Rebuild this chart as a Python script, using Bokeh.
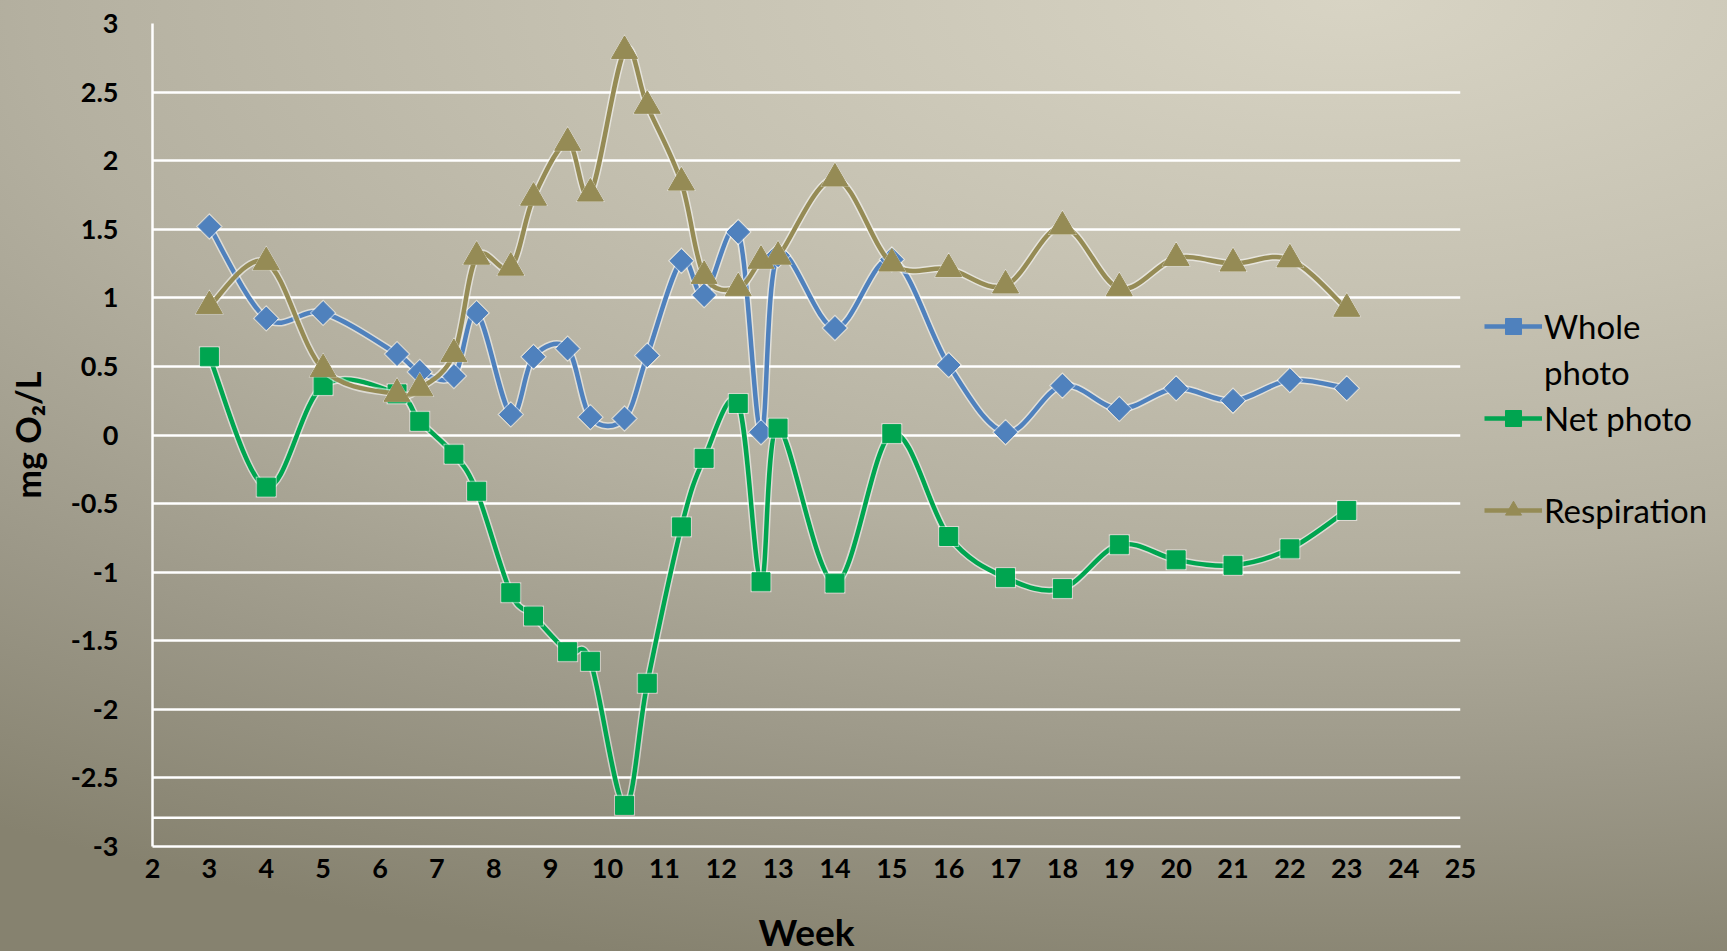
from bokeh.plotting import figure
from bokeh.models import FixedTicker, Legend, LegendItem, Span, ColumnDataSource
from bokeh.embed import file_html
from bokeh.resources import INLINE
import numpy as np

# Sampling weeks
weeks = [3, 4, 5, 6.3, 6.7, 7.3, 7.7, 8.3, 8.7, 9.3, 9.7, 10.3, 10.7, 11.3, 11.7,
         12.3, 12.7, 13, 14, 15, 16, 17, 18, 19, 20, 21, 22, 23]

# Dissolved oxygen changes (mg O2/L)
whole_photo = [1.52, 0.85, 0.89, 0.59, 0.46, 0.43, 0.89, 0.15, 0.57, 0.63, 0.13, 0.12,
               0.58, 1.27, 1.02, 1.48, 0.02, 1.31, 0.78, 1.28, 0.51, 0.02, 0.36, 0.19,
               0.34, 0.25, 0.40, 0.34]
net_photo = [0.57, -0.38, 0.36, 0.30, 0.10, -0.14, -0.41, -1.15, -1.32, -1.58, -1.65,
             -2.70, -1.81, -0.67, -0.17, 0.23, -1.07, 0.05, -1.08, 0.01, -0.74, -1.04,
             -1.12, -0.80, -0.91, -0.95, -0.83, -0.55]
respiration = [0.94, 1.26, 0.48, 0.30, 0.34, 0.59, 1.30, 1.22, 1.73, 2.13, 1.76, 2.80,
               2.40, 1.84, 1.16, 1.07, 1.27, 1.30, 1.87, 1.25, 1.21, 1.09, 1.52, 1.07,
               1.29, 1.25, 1.28, 0.92]

x_ticks = list(range(2, 26))
y_ticks = [-3, -2.5, -2, -1.5, -1, -0.5, 0, 0.5, 1, 1.5, 2, 2.5, 3]
y_tick_labels = ["-3", "-2.5", "-2", "-1.5", "-1", "-0.5", "0", "0.5", "1", "1.5", "2", "2.5", "3"]

FONT = "Lato"

p = figure(width=1727, height=951, x_range=(2, 25), y_range=(-3, 3),
           output_backend="svg", toolbar_location=None,
           min_border_left=152, min_border_right=267, min_border_top=23, min_border_bottom=105)
p.frame_width = 1308
p.frame_height = 823

p.styles = {
    "background": (
        "linear-gradient(to right, rgba(0,0,0,0) 80%, rgba(70,64,48,0.22) 100%), "
        "radial-gradient(ellipse 2400px 1000px at 1350px 0px, #D8D4C4 0%, #C6C2B2 30%, "
        "#B4B0A0 55%, #9C9888 78%, #86826F 100%)"
    )
}
p.background_fill_alpha = 0
p.border_fill_alpha = 0
p.outline_line_alpha = 0

# Grid
p.xgrid.grid_line_color = None
p.ygrid.ticker = FixedTicker(ticks=y_ticks)
p.ygrid.grid_line_color = "white"
p.ygrid.grid_line_width = 2.5
p.add_layout(Span(location=-2.79, dimension="width", line_color="white", line_width=2.5))

# Axes
for ax in (p.xaxis[0], p.yaxis[0]):
    ax.axis_line_color = "white"
    ax.axis_line_width = 2.5
    ax.major_tick_line_color = None
    ax.minor_tick_line_color = None
    ax.major_label_text_font = FONT
    ax.major_label_text_font_style = "bold"
    ax.major_label_text_font_size = "27px"
    ax.major_label_text_color = "black"
    ax.axis_label_text_font = FONT
    ax.axis_label_text_font_style = "bold"
    ax.axis_label_text_color = "black"

p.xaxis.ticker = FixedTicker(ticks=x_ticks)
p.xaxis.major_label_overrides = {t: str(t) for t in x_ticks}
p.xaxis.major_label_standoff = 6
p.xaxis.axis_label = "Week"
p.xaxis.axis_label_text_font_size = "37px"
p.xaxis.axis_label_standoff = 28

p.yaxis.ticker = FixedTicker(ticks=y_ticks)
p.yaxis.major_label_overrides = dict(zip(y_ticks, y_tick_labels))
p.yaxis.major_label_standoff = 28
p.yaxis.axis_label = "mg O\u2082/L"
p.yaxis.axis_label_text_font_size = "34px"
p.yaxis.axis_label_standoff = 20


def smooth_segments(xs, ys):
    """Cubic Bezier segments through the points (Catmull-Rom style control points)."""
    x = np.asarray(xs, dtype=float)
    y = np.asarray(ys, dtype=float)
    n = len(x)
    prev_i = np.clip(np.arange(n - 1) - 1, 0, n - 1)
    next_i = np.clip(np.arange(n - 1) + 2, 0, n - 1)
    a, b = np.arange(n - 1), np.arange(1, n)
    t = 1.0 / 6.0
    return dict(
        x0=x[a], y0=y[a], x1=x[b], y1=y[b],
        cx0=x[a] + (x[b] - x[prev_i]) * t, cy0=y[a] + (y[b] - y[prev_i]) * t,
        cx1=x[b] - (x[next_i] - x[a]) * t, cy1=y[b] - (y[next_i] - y[a]) * t,
    )


series = [
    ("Whole", whole_photo, "#4F81BD", "square", 16, np.pi / 4),
    ("Net photo", net_photo, "#00A550", "square", 18, 0),
    ("Respiration", respiration, "#958B55", "triangle", 26, 0),
]

line_w = 4.5
legend_parts = []
for name, vals, color, marker, size, angle in series:
    seg = ColumnDataSource(smooth_segments(weeks, vals))
    pts = ColumnDataSource(dict(x=weeks, y=vals))
    p.bezier(x0="x0", y0="y0", x1="x1", y1="y1", cx0="cx0", cy0="cy0", cx1="cx1", cy1="cy1",
             source=seg, line_color="white", line_width=line_w + 3, line_alpha=0.55)
    p.bezier(x0="x0", y0="y0", x1="x1", y1="y1", cx0="cx0", cy0="cy0", cx1="cx1", cy1="cy1",
             source=seg, line_color=color, line_width=line_w)
    p.scatter(x="x", y="y", source=pts, marker=marker, size=size + 3, angle=angle,
              fill_color="white", fill_alpha=0.5, line_color=None)
    m = p.scatter(x="x", y="y", source=pts, marker=marker, size=size, angle=angle,
                  fill_color=color, line_color=color, line_width=1)
    # legend sample line (a single point, so nothing shows in the plot area)
    lr = p.line(x=[weeks[0]], y=[vals[0]], line_color=color, line_width=line_w)
    legend_parts.append((name, [lr, m]))

# Invisible renderer for text-only legend rows (second line of "Whole photo", spacer)
blank = p.line(x=[weeks[0]], y=[0], line_alpha=0)

items = [
    LegendItem(label=legend_parts[0][0], renderers=legend_parts[0][1]),
    LegendItem(label="photo", renderers=[blank]),
    LegendItem(label=legend_parts[1][0], renderers=legend_parts[1][1]),
    LegendItem(label=" ", renderers=[blank]),
    LegendItem(label=legend_parts[2][0], renderers=legend_parts[2][1]),
]

legend = Legend(items=items, location=(0, 292), padding=24, margin=0, spacing=6,
                glyph_width=58, glyph_height=40, label_standoff=2, label_height=38,
                border_line_alpha=0, background_fill_alpha=0,
                label_text_font=FONT, label_text_font_size="33px", label_text_color="black")
p.add_layout(legend, "right")

open("out.html", "w").write(file_html(p, INLINE))
